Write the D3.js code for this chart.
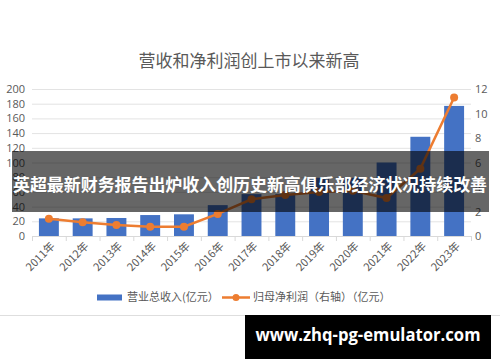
<!DOCTYPE html>
<html><head><meta charset="utf-8">
<script src="https://cdn.jsdelivr.net/npm/d3@7"></script>
<style>body{margin:0;background:#fff}svg{display:block}</style>
</head><body>
<svg id="c" width="500" height="362"></svg>
<script>
const years = ["2011年","2012年","2013年","2014年","2015年","2016年","2017年","2018年","2019年","2020年","2021年","2022年","2023年"];
const revenue = [24, 24, 24.5, 28.5, 29.5, 42, 57, 57, 79, 79, 100, 135, 177];
const profit = [1.4, 1.12, 0.9, 0.76, 0.76, 1.8, 3.0, 3.35, 3.6, 3.7, 3.1, 5.5, 11.3];
const leftTicks = [0,20,40,60,80,100,120,140,160,180,200];
const rightTicks = [0,2,4,6,8,10,12];
const title = "营收和净利润创上市以来新高";
const legendLabels = ["营业总收入(亿元）","归母净利润（右轴）（亿元）"];
const banner = "英超最新财务报告出炉收入创历史新高俱乐部经济状况持续改善";
const footer = "www.zhq-pg-emulator.com";

const svg = d3.select("#c");
const L = 32, R = 471, T = 89, B = 236;
const x = d3.scaleBand().domain(years).range([L, R]).paddingInner(0.41).paddingOuter(0.205);
const xb = d3.scaleBand().domain(years).range([L, R]);
const yL = d3.scaleLinear().domain([0, 200]).range([B, T]);
const yR = d3.scaleLinear().domain([0, 12]).range([B, T]);
const txt = "#595959", fontCJK = "'Noto Sans CJK SC', sans-serif";

svg.append("text").attr("x", 249).attr("y", 62).attr("text-anchor", "middle").attr("dominant-baseline","middle")
  .attr("font-family", fontCJK).attr("font-size", 17).attr("fill", txt).attr("font-weight", 400).text(title);

// gridlines
svg.append("g").selectAll("line").data(leftTicks.filter(d => d > 0)).join("line")
  .attr("x1", L).attr("x2", R).attr("y1", d => yL(d) + 0.5).attr("y2", d => yL(d) + 0.5)
  .attr("stroke", "#e3e3e3").attr("stroke-width", 1);

// left axis
const gl = svg.append("g").attr("transform", `translate(${L},0)`)
  .call(d3.axisLeft(yL).tickValues(leftTicks).tickSize(0).tickPadding(7));
gl.select(".domain").remove();
gl.selectAll("text").attr("font-family", "'Open Sans', sans-serif").attr("font-size", 11).attr("fill", txt);

// right axis
const gr = svg.append("g").attr("transform", `translate(${R},0)`)
  .call(d3.axisRight(yR).tickValues(rightTicks).tickSize(0).tickPadding(4));
gr.select(".domain").remove();
gr.selectAll("text").attr("font-family", "'Open Sans', sans-serif").attr("font-size", 11).attr("fill", txt);

// bars
svg.append("g").selectAll("rect").data(years).join("rect")
  .attr("x", d => x(d)).attr("width", x.bandwidth())
  .attr("y", (d, i) => yL(revenue[i])).attr("height", (d, i) => B - yL(revenue[i]))
  .attr("fill", "#4472C4");

// bottom axis
const gx = svg.append("g").attr("transform", `translate(0,${B})`)
  .call(d3.axisBottom(xb).tickSize(0).tickFormat(""));
gx.select(".domain").attr("stroke", "#d9d9d9");
svg.append("g").selectAll("line").data(d3.range(years.length + 1)).join("line")
  .attr("x1", i => L + i * xb.step() + 0.5).attr("x2", i => L + i * xb.step() + 0.5)
  .attr("y1", B).attr("y2", B + 5).attr("stroke", "#d9d9d9");
svg.append("g").selectAll("text").data(years).join("text")
  .attr("transform", d => `translate(${xb(d) + xb.bandwidth()/2 + 4},${B + 8}) rotate(-45)`)
  .attr("text-anchor", "end").attr("dy", "0.35em")
  .attr("font-family", fontCJK).attr("font-size", 11).attr("fill", txt).text(d => d);

// line
const cx = d => xb(d) + xb.bandwidth() / 2;
svg.append("path").datum(years)
  .attr("d", d3.line().x(cx).y((d, i) => yR(profit[i])))
  .attr("fill", "none").attr("stroke", "#ED7D31").attr("stroke-width", 2.5);
svg.append("g").selectAll("circle").data(years).join("circle")
  .attr("cx", cx).attr("cy", (d, i) => yR(profit[i])).attr("r", 4).attr("fill", "#ED7D31");

// legend
const lg = svg.append("g").attr("font-family", fontCJK).attr("font-size", 11).attr("fill", txt);
lg.append("rect").attr("x", 97).attr("y", 294.5).attr("width", 25).attr("height", 6).attr("fill", "#4472C4");
lg.append("text").attr("x", 127).attr("y", 298).attr("dominant-baseline", "middle").text(legendLabels[0]);
lg.append("line").attr("x1", 222).attr("x2", 250).attr("y1", 297.5).attr("y2", 297.5).attr("stroke", "#ED7D31").attr("stroke-width", 2.5);
lg.append("circle").attr("cx", 236).attr("cy", 297.5).attr("r", 3.5).attr("fill", "#ED7D31");
lg.append("text").attr("x", 253).attr("y", 298).attr("dominant-baseline", "middle").text(legendLabels[1]);

// bottom border line
svg.append("line").attr("x1", 0).attr("x2", 500).attr("y1", 315.5).attr("y2", 315.5).attr("stroke", "#dedede");

// banner overlay
svg.append("rect").attr("x", 12).attr("y", 151).attr("width", 477).attr("height", 61).attr("fill", "rgba(0,0,0,0.6)");
svg.append("text").attr("x", 250).attr("y", 186).attr("text-anchor", "middle").attr("dominant-baseline", "middle")
  .attr("font-family", fontCJK).attr("font-weight", 700).attr("font-size", 17).attr("fill", "#fff")
  .attr("textLength", 474).attr("lengthAdjust", "spacingAndGlyphs").text(banner);

// footer
svg.append("rect").attr("x", 245).attr("y", 315).attr("width", 246).attr("height", 44).attr("fill", "#000");
svg.append("text").attr("x", 368).attr("y", 336).attr("text-anchor", "middle").attr("dominant-baseline", "middle")
  .attr("font-family", "'Open Sans', sans-serif").attr("font-weight", 700).attr("font-size", 17).attr("fill", "#fff")
  .attr("textLength", 225).attr("lengthAdjust", "spacingAndGlyphs").text(footer);
</script>
</body></html>
